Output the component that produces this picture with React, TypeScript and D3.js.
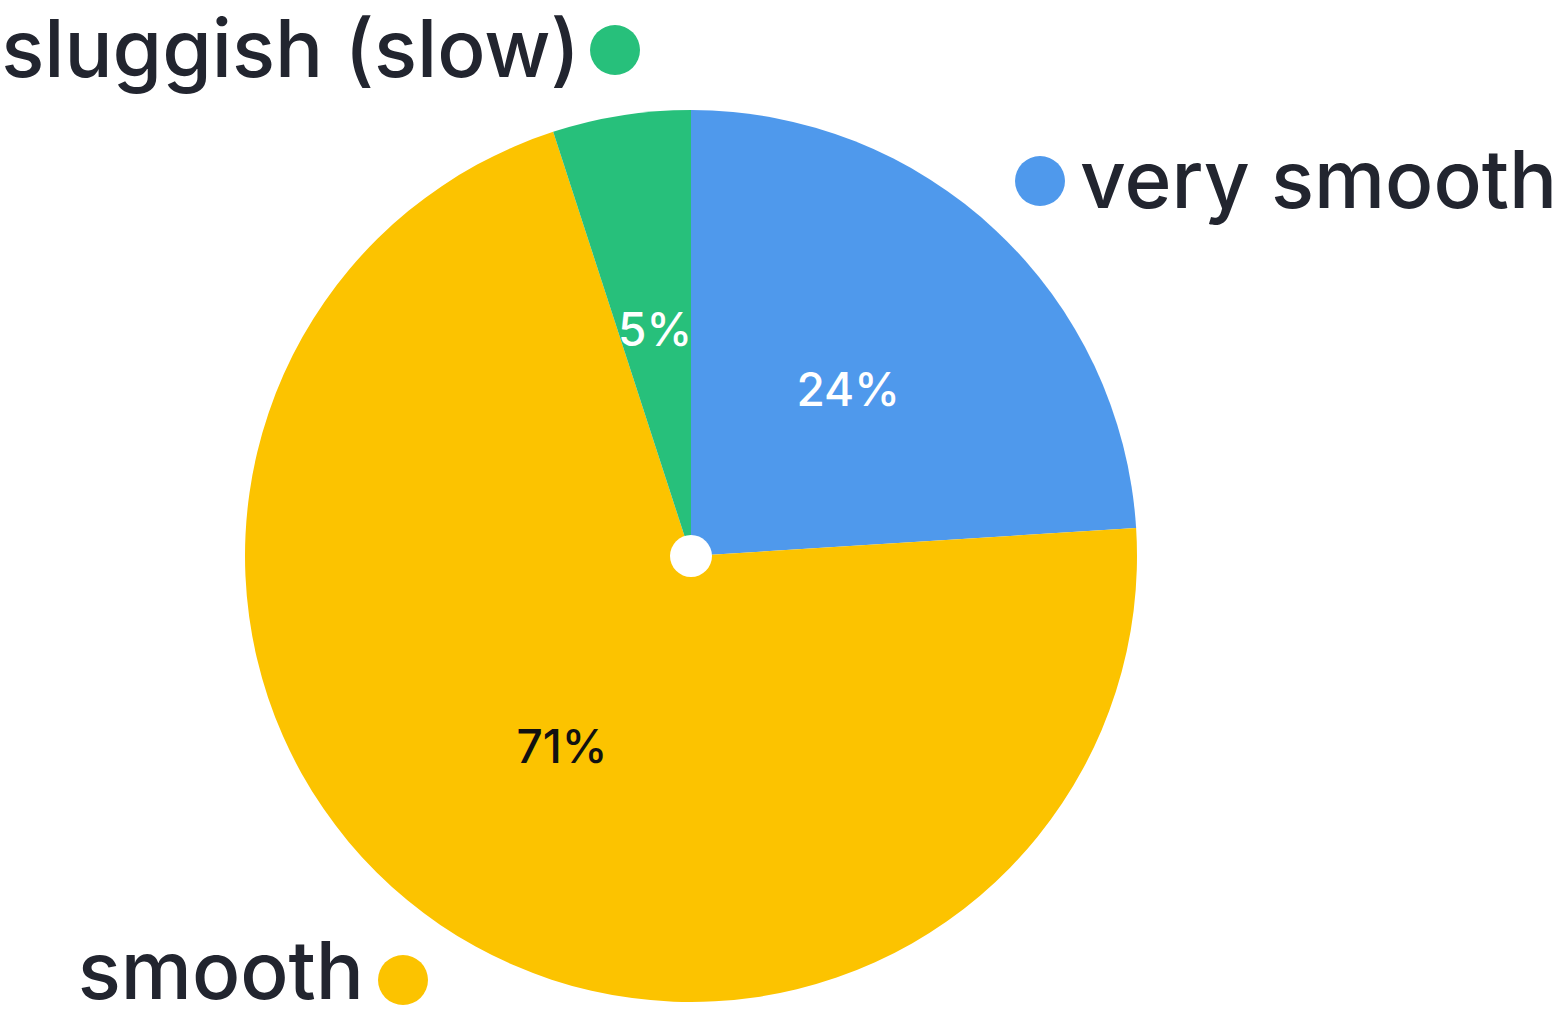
import * as d3 from "d3";

const categories = ["very smooth", "smooth", "sluggish (slow)"];
const values = [24, 71, 5];
const colors = ["#4f99ec", "#fcc300", "#27c07b"];
const labelColors = ["#ffffff", "#111111", "#ffffff"];

const width = 1561;
const height = 1019;
const cx = 691;
const cy = 556;
const radius = 446;

// category labels around the pie: text position, anchor and dot position
const outer = [
  { x: 1080, y: 208, anchor: "start", dx: 1040, dy: 181 },
  { x: 364, y: 999, anchor: "end", dx: 403, dy: 980 },
  { x: 580, y: 77, anchor: "end", dx: 615, dy: 50 },
];

export default function App() {
  const pie = d3
    .pie<number>()
    .value((d) => d)
    .sort(null);
  const arcs = pie(values);
  const arc = d3.arc<d3.PieArcDatum<number>>().innerRadius(0).outerRadius(radius);
  const labelArc = d3
    .arc<d3.PieArcDatum<number>>()
    .innerRadius(radius * 1.03)
    .outerRadius(0);

  return (
    <svg
      width={width}
      height={height}
      style={{ position: "absolute", left: 0, top: 0, background: "#fff" }}
      fontFamily="Inter, 'Noto Sans', sans-serif"
    >
      <g transform={`translate(${cx},${cy})`}>
        {arcs.map((a, i) => (
          <path key={i} d={arc(a) ?? ""} fill={colors[i]} />
        ))}
        <circle r={21} fill="#fff" />
        {arcs.map((a, i) => {
          const [x, y] = labelArc.centroid(a);
          return (
            <text
              key={i}
              x={x}
              y={y}
              textAnchor="middle"
              dominantBaseline="central"
              fontSize={46}
              fontWeight={500}
              fill={labelColors[i]}
            >
              {a.value}%
            </text>
          );
        })}
      </g>
      {categories.map((c, i) => (
        <g key={c}>
          <circle cx={outer[i].dx} cy={outer[i].dy} r={25} fill={colors[i]} />
          <text
            x={outer[i].x}
            y={outer[i].y}
            textAnchor={outer[i].anchor}
            fontSize={80}
            fontWeight={500}
            fill="#22252f"
          >
            {c}
          </text>
        </g>
      ))}
    </svg>
  );
}
